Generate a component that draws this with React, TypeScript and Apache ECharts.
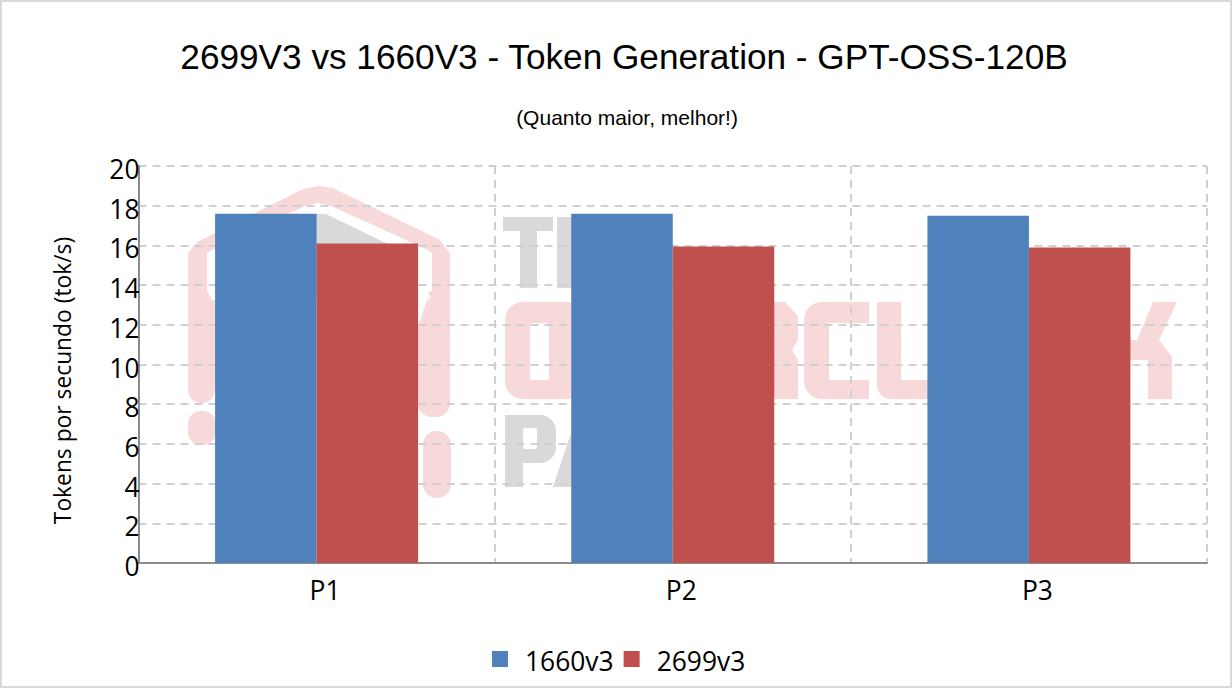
import React, { useEffect, useRef } from "react";
import * as echarts from "echarts";

const titleText = "2699V3 vs 1660V3 - Token Generation - GPT-OSS-120B";
const subtitleText = "(Quanto maior, melhor!)";
const yAxisName = "Tokens por secundo (tok/s)";
const categories = ["P1", "P2", "P3"];
const series1660 = [17.6, 17.6, 17.5];
const series2699 = [16.1, 15.95, 15.9];

const PINK = "#f7d9d9";
const GRAY = "#d9d9d9";

function poly(points: number[][], fill: string) {
  return { type: "polygon", silent: true, z: -5, shape: { points }, style: { fill } };
}
function box(x: number, y: number, width: number, height: number, fill: string, r: number | number[] = 0) {
  return { type: "rect", silent: true, z: -5, shape: { x, y, width, height, r }, style: { fill } };
}

const watermark = [
  // house outline
  poly([[197, 242], [303, 189], [318, 186], [333, 188], [440, 240], [450, 253], [450, 330], [188, 330], [188, 253]], PINK),
  poly([[207, 253], [212, 250], [305, 206], [318, 203], [331, 206], [428, 250], [432, 253], [432, 290], [428, 293], [431, 298], [427, 300], [418, 327], [215, 323], [212, 300], [207, 290]], "#ffffff"),
  poly([[232, 250], [310, 214], [326, 214], [400, 250], [400, 300], [232, 300]], GRAY),
  box(188, 300, 27, 103, PINK, [0, 0, 13, 13]),
  box(188, 411, 28, 34, PINK, 13),
  box(418, 325, 32, 92, PINK, [0, 0, 14, 14]),
  box(423, 431, 28, 67, PINK, 14),
  // upper word
  box(503, 217, 50, 14, GRAY),
  box(520, 217, 17, 71, GRAY),
  box(557, 217, 20, 71, GRAY),
  // middle word
  box(505, 302, 80, 97, PINK, 18),
  box(530, 323, 19, 57, "#ffffff", 3),
  poly([[760, 302], [785, 302], [798, 316], [798, 340], [792, 350], [798, 360], [798, 399], [760, 399]], PINK),
  box(804, 302, 65, 97, PINK, [18, 0, 0, 18]),
  box(829, 323, 40, 57, "#ffffff"),
  box(877, 302, 24, 97, PINK, [0, 0, 0, 14]),
  box(901, 380, 30, 19, PINK),
  poly([[1129, 340], [1137, 340], [1153, 302], [1177, 302], [1159, 340], [1172, 357], [1172, 399], [1148, 399], [1148, 360], [1129, 360]], PINK),
  // lower word
  box(505, 415, 51, 48, GRAY, [0, 16, 16, 0]),
  box(505, 415, 18, 72, GRAY),
  box(523, 428, 14, 21, "#ffffff", 2),
  poly([[553, 487], [571, 433], [575, 487]], GRAY),
];

export default function App() {
  const ref = useRef<HTMLDivElement>(null);
  useEffect(() => {
    document.body.style.margin = "0";
    const chart = echarts.init(ref.current!, undefined, { renderer: "svg" });
    chart.setOption({
      animation: false,
      backgroundColor: "#ffffff",
      title: [
        {
          text: titleText,
          left: 619,
          top: 34,
          textAlign: "center",
          textStyle: { fontFamily: "Liberation Sans", fontSize: 35.2, fontWeight: "normal", color: "#000000" },
        },
        {
          text: subtitleText,
          left: 622,
          top: 102,
          textAlign: "center",
          textStyle: { fontFamily: "Liberation Sans", fontSize: 21, fontWeight: "normal", color: "#000000" },
        },
      ],
      grid: { left: 138.5, top: 166, width: 1068.5, height: 397, containLabel: false },
      legend: {
        left: 487,
        top: 643,
        icon: "rect",
        itemWidth: 16,
        itemHeight: 16,
        itemGap: 10,
        selectedMode: false,
        formatter: "{a|{name}}",
        textStyle: {
          fontFamily: "Open Sans",
          fontSize: 26.4,
          color: "#000000",
          rich: { a: { fontFamily: "Open Sans", fontSize: 26.4, color: "#000000", padding: [4, 0, 0, 12] } },
        },
        data: ["1660v3", "2699v3"],
      },
      xAxis: {
        type: "category",
        data: categories,
        axisLine: { lineStyle: { color: "#8c8c8c", width: 2 } },
        axisTick: { show: false },
        axisLabel: {
          margin: 14,
          padding: [0, 0, 0, 17],
          fontFamily: "Open Sans",
          fontSize: 26.4,
          color: "#000000",
        },
        splitLine: { show: true, lineStyle: { color: "#d0d0d0", width: 2, type: [8, 6] } },
      },
      yAxis: {
        type: "value",
        min: 0,
        max: 20,
        interval: 2,
        name: yAxisName,
        nameLocation: "middle",
        nameRotate: 90,
        nameGap: 65,
        nameTextStyle: { fontFamily: "Open Sans", fontSize: 22.8, color: "#000000", padding: [0, 32, 0, 0] },
        axisLine: { show: true, onZero: false, lineStyle: { color: "#8c8c8c", width: 2 } },
        axisTick: { show: false },
        axisLabel: {
          margin: -1,
          fontFamily: "Open Sans",
          fontSize: 26.4,
          color: "#000000",
          verticalAlign: "top",
          lineHeight: 6,
        },
        splitLine: { show: true, lineStyle: { color: "#d0d0d0", width: 2, type: [8, 6] } },
      },
      graphic: {
        elements: [
          {
            type: "rect",
            silent: true,
            z: -10,
            shape: { x: 1, y: 1, width: 1230, height: 686 },
            style: { fill: "#ffffff", stroke: "#d9d9d9", lineWidth: 2 },
          },
          ...watermark,
        ],
      },
      series: [
        {
          name: "1660v3",
          type: "bar",
          data: series1660,
          barWidth: "28.5%",
          barGap: 0,
          itemStyle: { color: "#4f81bd" },
        },
        {
          name: "2699v3",
          type: "bar",
          data: series2699,
          barWidth: "28.5%",
          itemStyle: { color: "#c0504d" },
        },
      ],
    });
    return () => chart.dispose();
  }, []);
  return <div ref={ref} style={{ width: 1232, height: 688 }} />;
}
